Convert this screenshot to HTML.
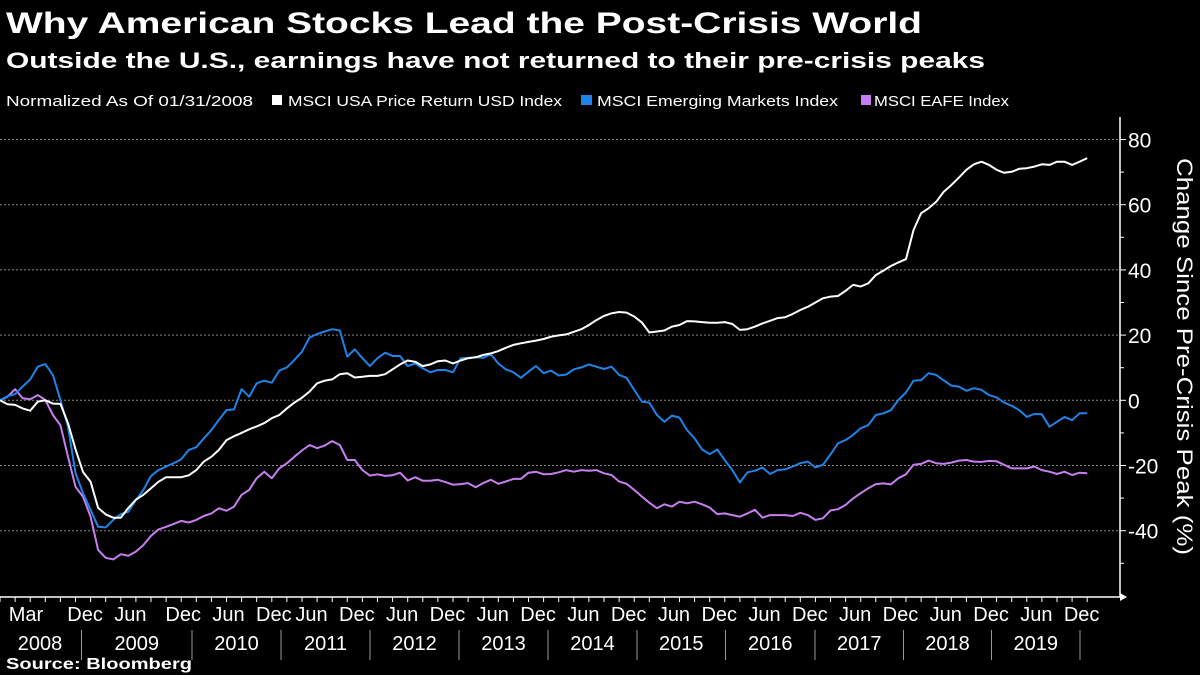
<!DOCTYPE html>
<html><head><meta charset="utf-8">
<style>
body{margin:0;background:#000;width:1200px;height:675px;overflow:hidden;font-family:"Liberation Sans",sans-serif;color:#fff}
svg{position:absolute;left:0;top:0}
</style></head>
<body>
<svg width="1200" height="675" id="chart">
<text x="6" y="33" font-size="30" font-weight="bold" fill="#fff" textLength="916" lengthAdjust="spacingAndGlyphs">Why American Stocks Lead the Post-Crisis World</text>
<text x="6" y="68" font-size="22" font-weight="bold" fill="#fff" textLength="979" lengthAdjust="spacingAndGlyphs">Outside the U.S., earnings have not returned to their pre-crisis peaks</text>
<g font-size="15" fill="#fff">
<text x="6" y="106" textLength="247" lengthAdjust="spacingAndGlyphs">Normalized As Of 01/31/2008</text>
<rect x="272" y="95" width="10" height="10" fill="#fff"/>
<text x="288" y="106" textLength="274" lengthAdjust="spacingAndGlyphs">MSCI USA Price Return USD Index</text>
<rect x="581" y="95" width="11" height="10" fill="#1f83e8"/>
<text x="597" y="106" textLength="241" lengthAdjust="spacingAndGlyphs">MSCI Emerging Markets Index</text>
<rect x="861" y="95" width="10" height="10" fill="#c77ef0"/>
<text x="874" y="106" textLength="135" lengthAdjust="spacingAndGlyphs">MSCI EAFE Index</text>
</g>
<g id="grid"></g>
<g id="axes"></g>
<g id="series"></g>
<text x="6" y="669" font-size="16" font-weight="bold" fill="#fff" textLength="186" lengthAdjust="spacingAndGlyphs">Source: Bloomberg</text>
<text transform="translate(1177,158) rotate(90)" font-size="22" fill="#fff" textLength="397" lengthAdjust="spacingAndGlyphs">Change Since Pre-Crisis Peak (%)</text>
</svg>
<script>
const usa=[0,-1.2,-1.4,-2.5,-3.2,-0.4,0,-1,-1.1,-7,-15,-22,-25,-33,-35,-36,-36,-33,-30.5,-29,-27,-25,-23.6,-23.6,-23.6,-23,-21.4,-18.8,-17.3,-15.2,-12.2,-11,-10,-8.9,-8,-7,-5.5,-4.5,-2.5,-0.7,0.8,2.7,5.2,6,6.4,8,8.3,7,7.2,7.5,7.5,8,9.5,11,
12.2,11.8,10.5,11,12,12.2,11.3,12.2,12.9,13.2,13.9,14.4,15.1,16.1,17,17.5,17.9,18.3,18.8,19.5,19.9,20.2,21,21.8,23.1,24.6,25.9,26.7,27.1,26.9,25.7,23.9,20.8,21.1,21.4,22.6,23.1,24.3,24.2,24,23.8,23.8,24,23.4,21.6,21.8,22.6,23.6,24.4,25.2,
25.5,26.5,27.7,28.7,30,31.3,31.8,32,33.6,35.4,34.9,35.9,38.4,39.8,41.2,42.3,43.3,52.2,57.4,58.9,60.9,64,66,68.3,70.7,72.4,73.2,72.2,70.7,69.8,70.1,71,71.2,71.7,72.4,72.2,73.2,73.2,72.2,73.2,74.3];
const em=[0,1.3,1.9,4.2,6.4,10.3,11.1,7.8,0.1,-8.1,-22.3,-28.5,-33.6,-38.8,-39,-36.7,-34.9,-34.2,-30.6,-27.5,-23.2,-21.4,-20.3,-19.3,-18.1,-15.2,-14.4,-11.7,-9.1,-6,-3,-2.8,3.4,1.1,5.2,6,5.4,9.1,10.1,12.4,14.9,19.3,20.3,21.1,21.8,21.4,13.4,15.6,12.9,10.5,12.9,14.6,13.6,13.6,
10.5,11.3,9.8,8.6,9.3,9.3,8.6,12.9,13,13.2,13,14.1,11.3,9.5,8.6,6.9,8.8,10.5,8.3,9.1,7.6,7.9,9.5,10.1,11,10.3,9.6,10.3,7.8,6.9,3.2,-0.4,-0.7,-4.5,-6.6,-4.7,-5.3,-9.1,-11.7,-15.1,-16.5,-15.1,-18.4,-21.4,-25.2,-22.1,-21.6,-20.6,-22.6,-21.4,
-21.2,-20.3,-19.3,-18.8,-20.6,-19.8,-16.6,-13.2,-12.2,-10.6,-8.6,-7.6,-4.5,-4,-3,0.1,2.4,6,6.2,8.3,7.8,6.1,4.5,4.2,2.9,3.7,3.2,1.6,0.9,-0.7,-1.7,-3,-5.1,-4.2,-4.3,-8.1,-6.6,-5.1,-6.1,-4,-4];
const eafe=[0,1.1,3.4,0.6,0.3,1.6,0.1,-4.5,-7.6,-17.3,-26.5,-29.6,-35.7,-45.9,-48.3,-48.8,-47.2,-47.7,-46.4,-44.4,-41.6,-39.6,-38.8,-37.9,-37,-37.5,-36.7,-35.5,-34.7,-33.1,-33.9,-32.6,-29,-27.5,-23.9,-21.9,-23.9,-20.9,-19.3,-17.3,-15.4,-13.7,-14.7,-13.9,-12.5,-13.7,-18.3,-18.3,-21.4,-23.1,-22.7,-23.2,-23,-22.2,
-24.6,-23.6,-24.7,-24.7,-24.4,-25.1,-25.9,-25.7,-25.4,-26.7,-25.4,-24.4,-25.6,-24.9,-24.1,-24.1,-22.2,-21.9,-22.7,-22.6,-22.1,-21.4,-21.9,-21.4,-21.6,-21.4,-22.4,-22.9,-24.9,-25.6,-27.5,-29.5,-31.4,-33.1,-31.9,-32.6,-31.1,-31.6,-31.1,-31.9,-32.9,-34.9,-34.7,-35.2,-35.7,-34.7,-33.6,-36,-35.2,-35.2,
-35.2,-35.5,-34.5,-35.2,-36.7,-36.2,-33.8,-33.4,-32.1,-30.1,-28.5,-27,-25.7,-25.5,-25.8,-23.9,-22.7,-19.8,-19.5,-18.5,-19.3,-19.5,-19.1,-18.5,-18.3,-18.8,-18.9,-18.6,-18.7,-19.8,-20.9,-20.9,-20.9,-20.3,-21.4,-21.9,-22.6,-21.9,-22.9,-22.2,-22.4];
const yTicks=[80,60,40,20,0,-20,-40];
const monthLabels=["Mar","Dec","Jun","Dec","Jun","Dec","Jun","Dec","Jun","Dec","Jun","Dec","Jun","Dec","Jun","Dec","Jun","Dec","Jun","Dec","Jun","Dec","Jun","Dec"];
const monthIdx=[2,11,17,24,30,36,41,47,53,59,65,71,77,83,89,95,101,107,113,119,125,131,137,143];
const years=["2008","2009","2010","2011","2012","2013","2014","2015","2016","2017","2018","2019"];

const NS="http://www.w3.org/2000/svg";
const xS=i=>i*7.55;
const yS=v=>400.3-v*3.26;
function mk(tag,attrs,parent){const e=document.createElementNS(NS,tag);for(const k in attrs)e.setAttribute(k,attrs[k]);parent.appendChild(e);return e;}
const grid=document.getElementById('grid'),axes=document.getElementById('axes'),ser=document.getElementById('series');

yTicks.forEach(v=>{
  const g=mk('line',{x1:0,x2:1118,y1:yS(v),y2:yS(v),stroke:'#888','stroke-width':1,'stroke-dasharray':'2,2'},grid);
  
  
  const t=mk('line',{x1:1120,x2:1126,y1:yS(v),y2:yS(v),stroke:'#fff'},axes);
  
  
  const l=mk('text',{x:1128,y:yS(v)+8,'font-size':21,fill:'#fff'},axes);
  l.textContent=v<0?'-'+Math.abs(v):String(v);
  
  
});
[70,50,30,10,-10,-30,-50].forEach(v=>{
  const t=mk('line',{x1:1120,x2:1124,y1:yS(v),y2:yS(v),stroke:'#fff'},axes);
  
  
});
const ya=mk('line',{x1:1120,x2:1120,y1:117,y2:597,stroke:'#fff','stroke-width':1.5},axes);


const xa=mk('line',{x1:0,x2:1122,y1:597,y2:597,stroke:'#fff','stroke-width':1.5},axes);


const ar=mk('path',{d:'M1120,593 L1127,597 L1120,601 Z',fill:'#fff'},axes);


for(let i=0;i<=144;i+=2){
  const t=mk('line',{x1:xS(i),x2:xS(i),y1:597,y2:602,stroke:'#fff'},axes);
  
  
}
monthLabels.forEach((m,k)=>{
  const x=k===0?26:xS(monthIdx[k])+2;
  const t=mk('text',{x:x,y:621,'font-size':20,fill:'#fff','text-anchor':'middle'},axes);
  t.textContent=m;
  
  
});
const seps=[81.5,192,281,370,459,548,637,725.5,815,903.5,991.5,1080];
years.forEach((y,k)=>{
  const left=k===0?0:seps[k-1];
  const t=mk('text',{x:k===0?40:(left+seps[k])/2,y:650,'font-size':20,fill:'#fff','text-anchor':'middle'},axes);
  t.textContent=y;
  
  
  const s=mk('line',{x1:seps[k],x2:seps[k],y1:630,y2:660,stroke:'#999'},axes);
  
  
});
function line(data,color,name){
  const d=data.map((v,i)=>(i?'L':'M')+xS(i).toFixed(1)+','+yS(v).toFixed(1)).join(' ');
  const p=mk('path',{d:d,fill:'none',stroke:color,'stroke-width':2,'stroke-linejoin':'round'},ser);
  
  
}
line(eafe,'#c77ef0','line-msci-eafe');
line(em,'#1f83e8','line-msci-em');
line(usa,'#ffffff','line-msci-usa');
</script>
</body></html>
